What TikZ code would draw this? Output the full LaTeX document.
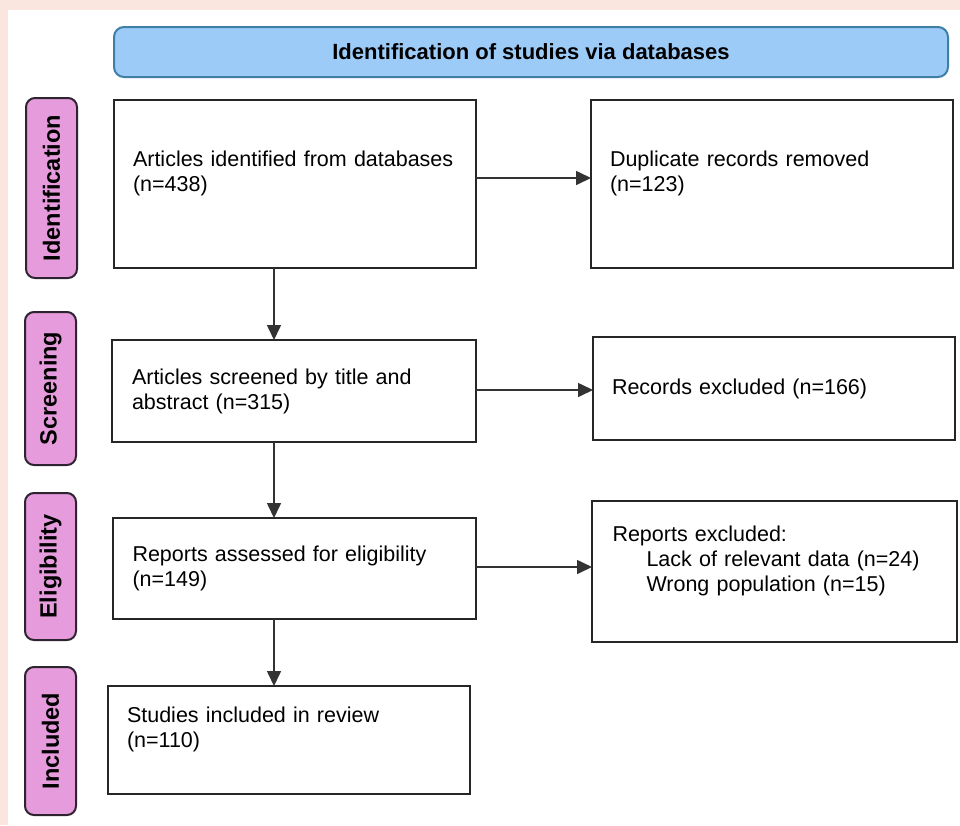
\documentclass[tikz,border=0pt]{standalone}
\usepackage{fontspec}
\setmainfont{Liberation Sans}
\usetikzlibrary{arrows.meta}
\usetikzlibrary{calc}

\definecolor{pagepink}{HTML}{FAE6DE}
\definecolor{headblue}{HTML}{9DCBF8}
\definecolor{headedge}{HTML}{3F7FA6}
\definecolor{phasepink}{HTML}{E69BDD}
\definecolor{phaseedge}{HTML}{2E2430}

\begin{document}
\begin{tikzpicture}[x=1pt, y=-1pt,
        font=\fontsize{21.5}{25}\selectfont,
        every node/.style={inner sep=0pt, outer sep=0pt},
        flowbox/.style={draw=black!85, line width=2pt, anchor=north west, align=left, text width=324pt},
        phase/.style={draw=phaseedge, fill=phasepink, line width=2pt, rounded corners=9pt, rotate=90,
            minimum height=51pt, font=\fontsize{23.5}{27}\selectfont\bfseries},
        flow/.style={draw=black!80, line width=1.6pt, -{Triangle[length=15pt,width=14pt]}}]
            \fill[pagepink] (0,0) rectangle (960,825);
            \fill[white] (8,10) rectangle (960,825);

            \node[draw=headedge, fill=headblue, line width=2pt, rounded corners=10pt, anchor=north west,
                minimum width=834pt, minimum height=50pt, font=\fontsize{22}{25}\selectfont\bfseries]
                (head) at (114,27) {Identification of studies via databases};

            \node[phase, minimum width=180pt] (identification) at (51.5,188) {Identification};
            \node[phase, minimum width=153pt] (screening) at (50.5,388.5) {Screening};
            \node[phase, minimum width=147pt] (eligibility) at (50.5,566.5) {Eligibility};
            \node[phase, minimum width=148pt] (included) at (50.5,741) {Included};

            \node[flowbox, minimum width=362pt, minimum height=168pt] (identified) at (114,100)
                {Articles identified from databases\\(n=438)\\\mbox{}};
            \node[flowbox, minimum width=362pt, minimum height=168pt] (duplicates) at (591,100)
                {Duplicate records removed\\(n=123)\\\mbox{}};
            \node[flowbox, minimum width=364pt, minimum height=102pt] (screened) at (112,340)
                {Articles screened by title and\\abstract (n=315)};
            \node[flowbox, minimum width=362pt, minimum height=103pt] (recordsout) at (593,337)
                {Records excluded (n=166)};
            \node[flowbox, minimum width=363pt, minimum height=101pt] (assessed) at (113,518)
                {Reports assessed for eligibility\\(n=149)};
            \node[flowbox, minimum width=365pt, minimum height=141pt] (reportsout) at (592,501)
                {Reports excluded:\\\hspace*{34pt}Lack of relevant data (n=24)\\\hspace*{34pt}Wrong population (n=15)\\\mbox{}};
            \node[flowbox, minimum width=362pt, minimum height=108pt] (studies) at (108,686)
                {Studies included in review\\(n=110)\\\mbox{}};

            \coordinate (spine) at (274,0);
            \draw[flow] (identified.south -| spine) -- (screened.north -| spine);
            \draw[flow] (screened.south -| spine) -- (assessed.north -| spine);
            \draw[flow] (assessed.south -| spine) -- (studies.north -| spine);

            \draw[flow] ([yshift=6pt]identified.east) -- ([yshift=6pt]identified.east -| duplicates.west);
            \draw[flow] ([yshift=1pt]screened.east) -- ([yshift=1pt]screened.east -| recordsout.west);
            \draw[flow] ([yshift=1.5pt]assessed.east) -- ([yshift=1.5pt]assessed.east -| reportsout.west);
        \end{tikzpicture}
\end{document}
